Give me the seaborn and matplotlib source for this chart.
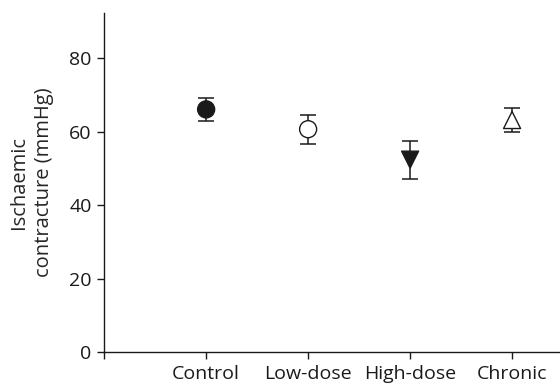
import matplotlib
matplotlib.use("Agg")
import matplotlib.pyplot as plt
import seaborn as sns
import pandas as pd

groups = ["Control", "Low-dose", "High-dose", "Chronic"]
means = [66.1, 60.7, 52.4, 63.2]
errs = [3.2, 4.0, 5.2, 3.3]
markers = ["o", "o", "v", "^"]
fills = ["#1a1a1a", "white", "#1a1a1a", "white"]
yticks = [0, 20, 40, 60, 80]

sns.set_style("ticks")
plt.rcParams["font.family"] = ["Open Sans", "DejaVu Sans"]

df = pd.DataFrame({"group": groups, "pos": range(1, len(groups) + 1),
                   "mean": means, "err": errs})

fig = plt.figure(figsize=(5.6, 3.85), dpi=100)
ax = fig.add_axes([0.186, 0.0857, 0.814, 0.880])

ax.errorbar(df["pos"], df["mean"], yerr=df["err"], fmt="none",
            ecolor="#1a1a1a", elinewidth=1.1, capsize=5.5, capthick=1.1, zorder=2)
sns.scatterplot(data=df, x="pos", y="mean", hue="group", style="group",
                palette=dict(zip(groups, fills)),
                markers=dict(zip(groups, markers)),
                s=150, edgecolor="#1a1a1a", linewidth=1.0, legend=False,
                ax=ax, zorder=3)

ax.set_xlim(0, 4.47)
ax.set_ylim(0, 92.3)
ax.set_xticks([0, 1, 2, 3, 4])
ax.set_xticklabels([""] + groups, fontsize=14)
ax.set_yticks(yticks)
ax.set_yticklabels([str(t) for t in yticks], fontsize=14)
ax.set_xlabel("")
ax.set_ylabel("Ischaemic\ncontracture (mmHg)", fontsize=14.5, labelpad=11,
              linespacing=1.3)
ax.tick_params(axis="both", direction="out", length=5, width=1.0, color="#1a1a1a",
               labelcolor="#1a1a1a")
ax.tick_params(axis="x", pad=4)
ax.tick_params(axis="y", pad=4)
for s in ["top", "right"]:
    ax.spines[s].set_visible(False)
for s in ["left", "bottom"]:
    ax.spines[s].set_linewidth(1.0)
    ax.spines[s].set_color("#1a1a1a")

fig.savefig("out.png", dpi=100)
